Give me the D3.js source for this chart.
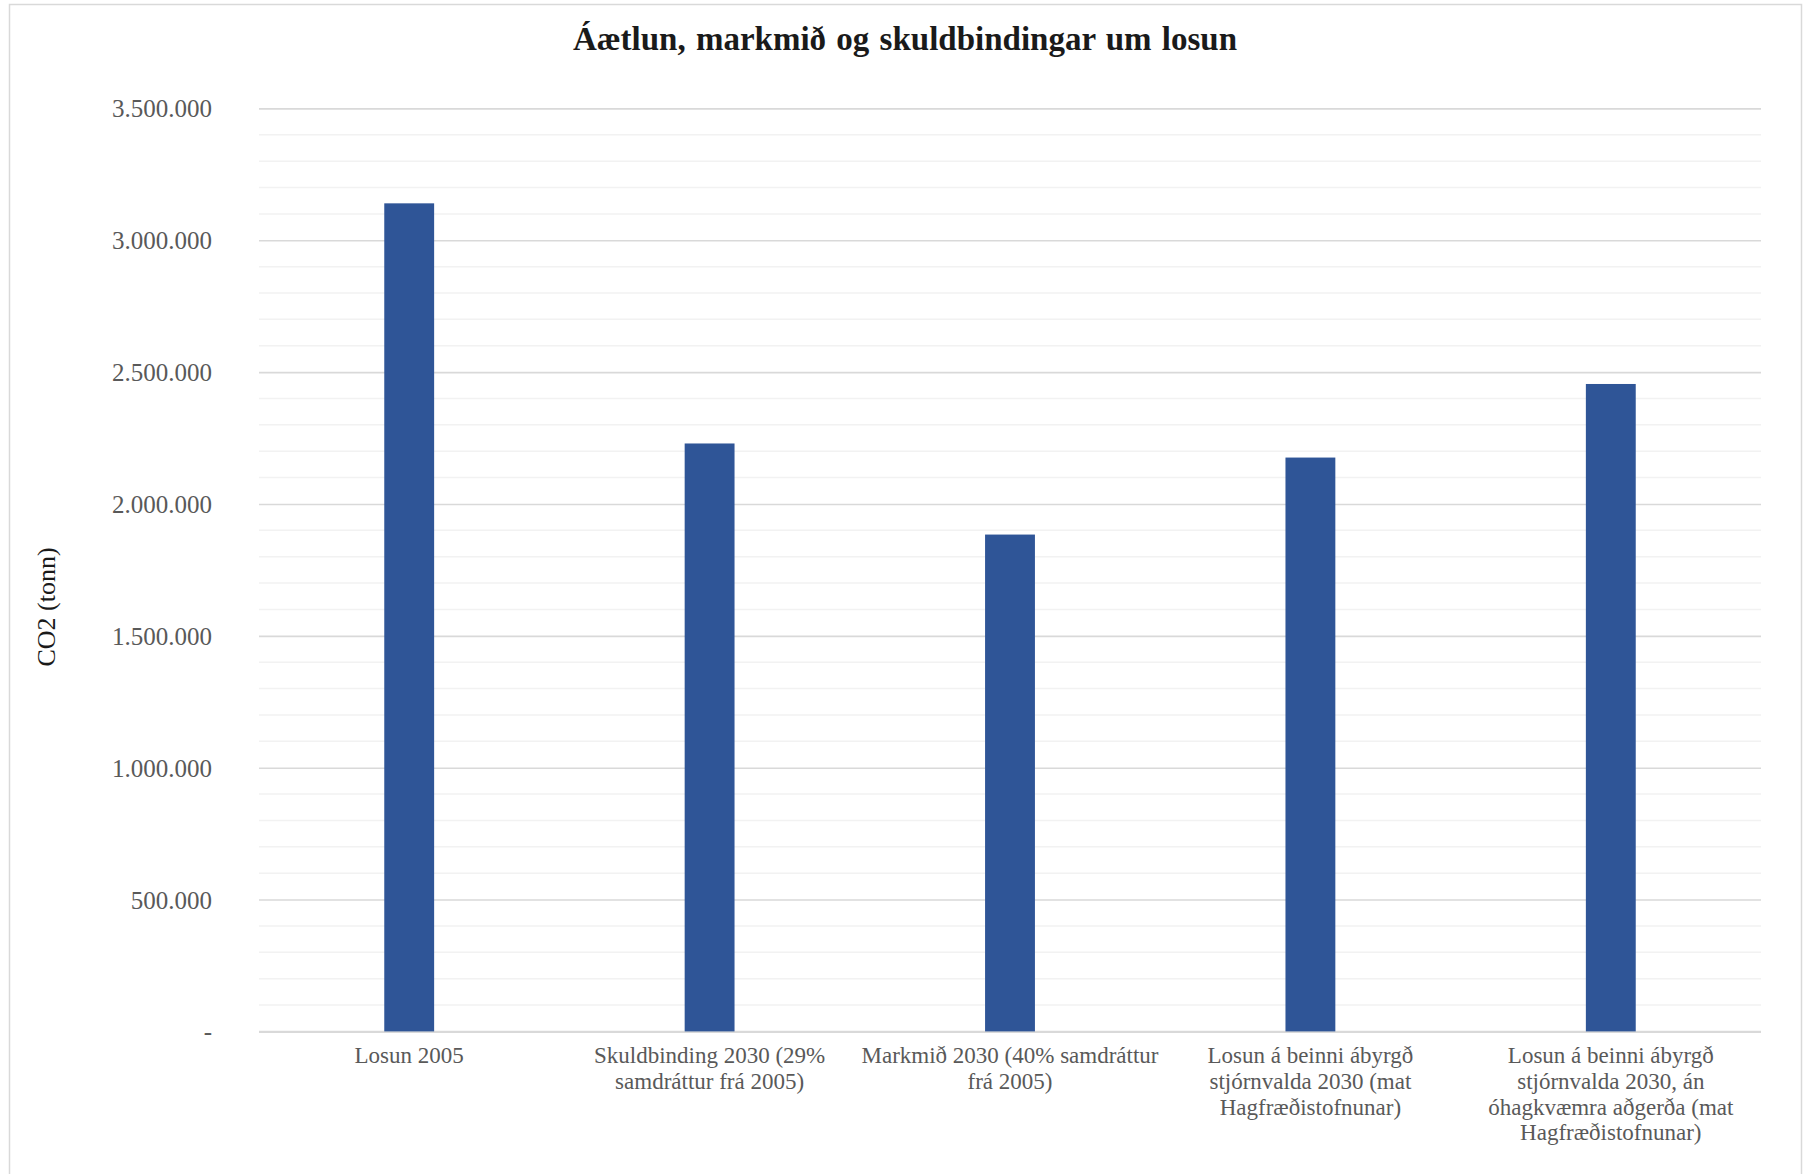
<!DOCTYPE html>
<html>
<head>
<meta charset="utf-8">
<script src="https://cdn.jsdelivr.net/npm/d3@7"></script>
<style>
  html, body { margin: 0; padding: 0; background: #ffffff; }
  svg { display: block; }
</style>
</head>
<body>
<div id="chart"></div>
<script>
// Emissions: 2005 baseline, 2030 commitment/target, and projections
const categories = [
  "Losun 2005",
  "Skuldbinding 2030 (29%\nsamdráttur frá 2005)",
  "Markmið 2030 (40% samdráttur\nfrá 2005)",
  "Losun á beinni ábyrgð\nstjórnvalda 2030 (mat\nHagfræðistofnunar)",
  "Losun á beinni ábyrgð\nstjórnvalda 2030, án\nóhagkvæmra aðgerða (mat\nHagfræðistofnunar)"
];
const values = [3140000, 2229400, 1884000, 2176000, 2455000];
const yTicks = [0, 500000, 1000000, 1500000, 2000000, 2500000, 3000000, 3500000];
const yTickLabels = ["-", "500.000", "1.000.000", "1.500.000", "2.000.000", "2.500.000", "3.000.000", "3.500.000"];
const chartTitle = "Áætlun, markmið og skuldbindingar um losun";
const yAxisTitle = "CO2 (tonn)";

const W = 1805, H = 1174;
const plot = { left: 259, right: 1761, top: 108.4, bottom: 1031.4 };
const serif = "'Liberation Serif', 'Times New Roman', serif";

const svg = d3.select("#chart").append("svg")
  .attr("width", W).attr("height", H);

// Chart area frame
svg.append("rect")
  .attr("x", 9.5).attr("y", 4.5)
  .attr("width", 1792).attr("height", 1200)
  .attr("fill", "#ffffff").attr("stroke", "#d9d9d9").attr("stroke-width", 1.5);

const x = d3.scaleBand()
  .domain(categories)
  .range([plot.left, plot.right])
  .paddingInner(0.834)
  .paddingOuter(0.417);

const y = d3.scaleLinear()
  .domain([0, 3500000])
  .range([plot.bottom, plot.top]);

// Minor gridlines every 100.000
const minorTicks = d3.range(100000, 3500001, 100000).filter(v => v % 500000 !== 0);
svg.append("g").selectAll("line").data(minorTicks).join("line")
  .attr("x1", plot.left).attr("x2", plot.right)
  .attr("y1", d => y(d)).attr("y2", d => y(d))
  .attr("stroke", "#f2f2f2").attr("stroke-width", 1.5);

// Major gridlines and y tick labels
const yAxis = d3.axisLeft(y)
  .tickValues(yTicks)
  .tickSize(0)
  .tickPadding(0)
  .tickFormat((d, i) => yTickLabels[i]);

const gy = svg.append("g")
  .attr("transform", `translate(${plot.left},0)`)
  .call(yAxis);
gy.select(".domain").remove();
gy.selectAll(".tick line")
  .attr("x2", plot.right - plot.left)
  .attr("stroke", "#d9d9d9")
  .attr("stroke-width", d => d === 0 ? 2.2 : 1.6);
gy.selectAll(".tick text")
  .attr("x", 212 - plot.left)
  .attr("dy", "0.34em")
  .attr("text-anchor", "end")
  .attr("fill", "#595959")
  .style("font-family", serif)
  .style("font-size", "25px");

// Bars
svg.append("g").selectAll("rect").data(values).join("rect")
  .attr("x", (d, i) => x(categories[i]))
  .attr("y", d => y(d))
  .attr("width", x.bandwidth())
  .attr("height", d => y(0) - y(d))
  .attr("fill", "#2f5597");

// Category labels (wrapped)
const xAxis = d3.axisBottom(x).tickSize(0).tickFormat("");
const gx = svg.append("g")
  .attr("transform", `translate(0,${plot.bottom})`)
  .call(xAxis);
gx.select(".domain").remove();
gx.selectAll(".tick").each(function(d) {
  const lines = d.split("\n");
  const t = d3.select(this).append("text")
    .attr("text-anchor", "middle")
    .attr("fill", "#595959")
    .style("font-family", serif)
    .style("font-size", "23px");
  lines.forEach((ln, k) => {
    t.append("tspan").attr("x", 0).attr("y", 32 + k * 25.6).text(ln);
  });
});

// Title
svg.append("text")
  .attr("x", 905).attr("y", 50)
  .attr("text-anchor", "middle")
  .attr("fill", "#1a1a1a")
  .style("font-family", serif)
  .style("font-weight", "bold")
  .style("font-size", "33px")
  .style("word-spacing", "2px")
  .text(chartTitle);

// Y axis title
svg.append("text")
  .attr("transform", `translate(55,607) rotate(-90)`)
  .attr("text-anchor", "middle")
  .attr("fill", "#1a1a1a")
  .style("font-family", serif)
  .style("font-size", "26px")
  .text(yAxisTitle);
</script>
</body>
</html>
